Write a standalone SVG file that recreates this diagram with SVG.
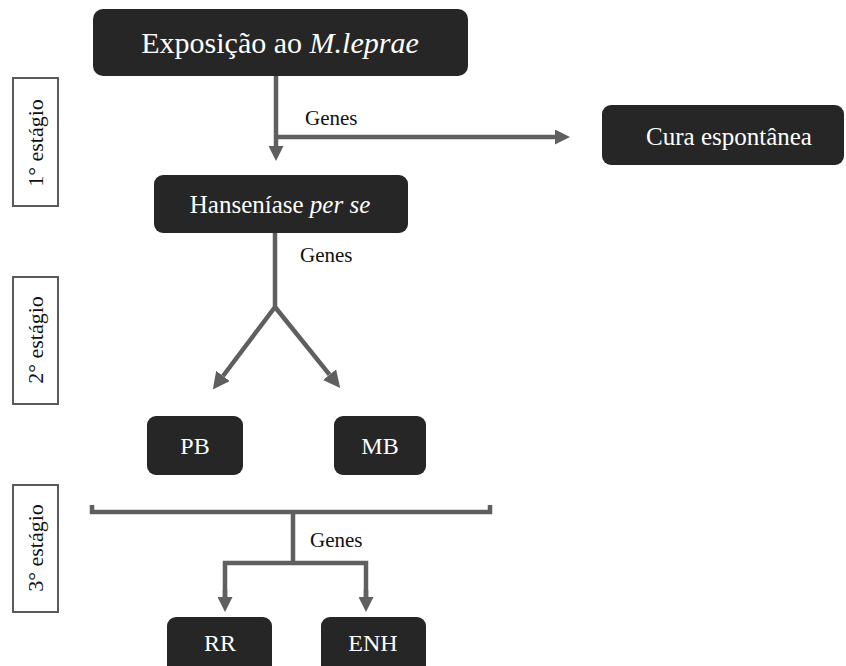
<svg xmlns="http://www.w3.org/2000/svg" width="846" height="666" viewBox="0 0 846 666">
<style>
.box{fill:#262626}
.bt{fill:#ffffff;font-family:"Liberation Serif","Times New Roman",serif;text-anchor:middle}
.stage{fill:#ffffff;stroke:#5a5a5a;stroke-width:2}
.st{fill:#111111;font-family:"Liberation Serif","Times New Roman",serif;font-size:22px;text-anchor:middle}
.lbl{fill:#111111;font-family:"Liberation Serif","Times New Roman",serif;font-size:21px}
.c{fill:none;stroke:#5f5f5f;stroke-width:4.5}
</style>
<defs>
<marker id="ah" markerUnits="userSpaceOnUse" viewBox="0 0 15 15" markerWidth="15" markerHeight="15" refX="0" refY="7.5" orient="auto">
<path d="M0,0 L15,7.5 L0,15 z" fill="#5f5f5f"/>
</marker>
<marker id="ah2" markerUnits="userSpaceOnUse" viewBox="0 0 17 17" markerWidth="17" markerHeight="17" refX="0" refY="8.5" orient="auto">
<path d="M0,0 L17,8.5 L0,17 z" fill="#5f5f5f"/>
</marker>
</defs>
<rect width="846" height="666" fill="#ffffff"/>
<g id="stage1"><rect class="stage" x="13" y="78" width="45" height="128"/><text class="st" transform="translate(43,143) rotate(-90)">1° estágio</text></g>
<g id="stage2"><rect class="stage" x="13" y="277" width="45" height="127"/><text class="st" transform="translate(43,340) rotate(-90)">2° estágio</text></g>
<g id="stage3"><rect class="stage" x="13" y="485" width="45" height="127"/><text class="st" transform="translate(43,548) rotate(-90)">3° estágio</text></g>
<g id="connectors">
<path class="c" d="M276,76 V146" marker-end="url(#ah)"/>
<path class="c" d="M276,137 H555" marker-end="url(#ah)"/>
<path class="c" d="M275,233 V307 L223,376" marker-end="url(#ah2)"/>
<path class="c" d="M275,307 L329.5,374.7" marker-end="url(#ah2)"/>
<path class="c" d="M92,505 V512 H490 V505"/>
<path class="c" d="M293,512 V563"/>
<path class="c" d="M225,597 V563 H366 V597"/>
<path class="c" d="M225,590 V597" marker-end="url(#ah)"/>
<path class="c" d="M366,590 V597" marker-end="url(#ah)"/>
<text class="lbl" x="305" y="125">Genes</text>
<text class="lbl" x="300" y="262">Genes</text>
<text class="lbl" x="310" y="547">Genes</text>
</g>
<g id="exposicao"><rect class="box" x="93" y="9" width="375" height="67" rx="10"/><text class="bt" x="280" y="53" font-size="30">Exposição ao <tspan font-style="italic">M.leprae</tspan></text></g>
<g id="cura"><rect class="box" x="602" y="105" width="242" height="60" rx="9"/><text class="bt" x="729" y="145" font-size="25">Cura espontânea</text></g>
<g id="hanseniase"><rect class="box" x="154" y="175" width="254" height="58" rx="9"/><text class="bt" x="280" y="213" font-size="25">Hanseníase <tspan font-style="italic">per se</tspan></text></g>
<g id="pb"><rect class="box" x="147" y="416" width="96" height="59" rx="9"/><text class="bt" x="195" y="454" font-size="24">PB</text></g>
<g id="mb"><rect class="box" x="334" y="416" width="92" height="59" rx="9"/><text class="bt" x="380" y="454" font-size="24">MB</text></g>
<g id="rr"><rect class="box" x="167" y="617" width="105" height="60" rx="9"/><text class="bt" x="220" y="651" font-size="24">RR</text></g>
<g id="enh"><rect class="box" x="321" y="617" width="105" height="60" rx="9"/><text class="bt" x="373" y="651" font-size="24">ENH</text></g>
</svg>
